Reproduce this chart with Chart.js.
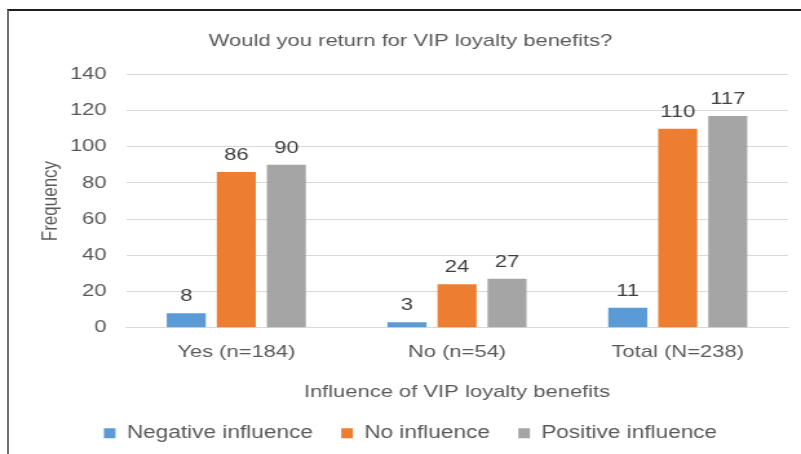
<!DOCTYPE html>
<html>
<head>
<meta charset="utf-8">
<script src="https://cdn.jsdelivr.net/npm/chart.js@4"></script>
<style>
html,body{margin:0;padding:0;background:#fff;}
#wrap{position:relative;width:801px;height:454px;overflow:hidden;}
#frame{position:absolute;left:7px;top:9px;width:820px;height:460px;border-top:2px solid #1e1e1e;border-left:2px solid #707070;pointer-events:none;}
canvas{position:absolute;left:0;top:0;}
</style>
</head>
<body>
<div id="wrap"><canvas id="c" width="620" height="454" style="width:801px;height:454px"></canvas><div id="frame"></div></div>
<script>
const categories = ["Yes (n=184)", "No (n=54)", "Total (N=238)"];
const negativeInfluence = [8, 3, 11];
const noInfluence = [86, 24, 110];
const positiveInfluence = [90, 27, 117];
const seriesNames = ["Negative influence", "No influence", "Positive influence"];
const yTicks = [0, 20, 40, 60, 80, 100, 120, 140];

const FONT = "'Liberation Sans', Arial, sans-serif";

const labelPlugin = {
  id: 'barLabels',
  afterDatasetsDraw(chart) {
    const ctx = chart.ctx;
    ctx.save();
    ctx.font = "17px " + FONT;
    ctx.fillStyle = "#404040";
    ctx.textAlign = "center";
    ctx.textBaseline = "bottom";
    chart.data.datasets.forEach((ds, i) => {
      const meta = chart.getDatasetMeta(i);
      meta.data.forEach((bar, j) => {
        ctx.fillText(String(ds.data[j]), bar.x, bar.y - 8);
      });
    });
    ctx.restore();
  }
};

new Chart(document.getElementById('c'), {
  type: 'bar',
  data: {
    labels: categories,
    datasets: [
      {label: seriesNames[0], data: negativeInfluence, backgroundColor: '#5B9BD5'},
      {label: seriesNames[1], data: noInfluence, backgroundColor: '#ED7D31'},
      {label: seriesNames[2], data: positiveInfluence, backgroundColor: '#A5A5A5'}
    ]
  },
  options: {
    responsive: false,
    animation: false,
    devicePixelRatio: 1,
    layout: {padding: {left: 25.5, right: 10, top: 0, bottom: 2}},
    datasets: {bar: {categoryPercentage: 0.68, barPercentage: 0.78}},
    plugins: {
      title: {display: true, text: "Would you return for VIP loyalty benefits?", color: '#595959',
        font: {family: FONT, size: 17, weight: 'normal'}, padding: {top: 31, bottom: 23}},
      legend: {position: 'bottom', labels: {color: '#595959', font: {family: FONT, size: 17.5},
        boxWidth: 9, boxHeight: 10, padding: 22}},
      tooltip: {enabled: false}
    },
    scales: {
      x: {
        grid: {display: false, drawTicks: false},
        border: {color: '#d9d9d9'},
        ticks: {color: '#595959', font: {family: FONT, size: 17}, padding: 14},
        title: {display: true, text: "Influence of VIP loyalty benefits", color: '#595959',
          font: {family: FONT, size: 17}, padding: {top: 6, bottom: 0}}
      },
      y: {
        min: 0, max: 140,
        afterBuildTicks(axis) { axis.ticks = yTicks.map(v => ({value: v})); },
        afterFit(scale) { scale.width = 72; },
        grid: {color: '#d9d9d9', drawTicks: false},
        border: {display: false},
        ticks: {color: '#595959', font: {family: FONT, size: 17}, padding: 15},
        title: {display: true, text: "Frequency", color: '#595959', font: {family: FONT, size: 17}, padding: {top: 4, bottom: 6}}
      }
    }
  },
  plugins: [labelPlugin]
});
</script>
</body>
</html>
